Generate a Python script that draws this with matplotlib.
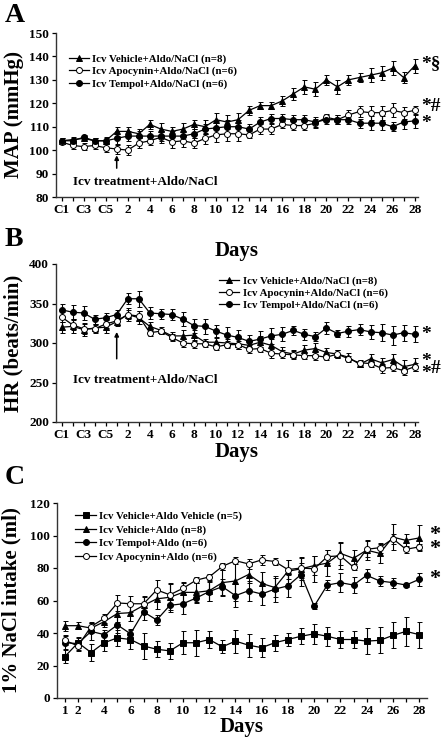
import matplotlib
matplotlib.use("Agg")
import matplotlib.pyplot as plt
from matplotlib.lines import Line2D
import numpy as np

plt.rcParams['font.family'] = ['Liberation Serif', 'DejaVu Serif']
plt.rcParams['font.weight'] = 'bold'
plt.rcParams['axes.labelweight'] = 'bold'

# ---------------- Panel A: MAP ----------------
ab_labels = ['C1', 'C2', 'C3', 'C4', 'C5'] + [str(d) for d in range(1, 29)]
a_vehicle = [104, 104.5, 105, 104, 104, 108, 108, 107, 111, 109, 108, 109, 111, 110, 113, 112, 113,
             117, 119, 119, 121, 124, 127, 126, 130, 127, 130, 131, 132, 133, 135, 131, 136]
a_vehicle_err = [1, 1, 1, 1, 1.5, 2, 2, 2, 2, 2.5, 2, 2.5, 2, 3, 3, 3, 3,
                 2, 1.5, 1.5, 2, 2.5, 3, 3, 2, 3, 2, 2, 3, 3, 3, 2.5, 3]
a_apocynin = [103.5, 102, 101.5, 102, 101, 100.5, 100, 103, 104, 105.5, 103.5, 104, 103, 105, 106.5, 107, 107,
              106.5, 109, 109, 111, 110.5, 110.5, 111.5, 114, 113, 115, 116.5, 116, 116, 117, 116, 117]
a_apocynin_err = [1, 1.5, 1.5, 1.5, 2, 2, 2, 2, 2, 2.5, 2.5, 2.5, 2, 2.5, 3, 3, 3,
                  1.5, 2, 2, 1.5, 2, 2, 2, 1.5, 2, 2, 2.5, 3, 3, 3, 2.5, 2]
a_tempol = [104, 104, 105.5, 104, 104, 105, 106, 106, 106, 106, 106, 106, 107, 109, 109.5, 110, 110,
            109, 112, 113.5, 113.5, 113, 113, 112, 113, 113, 113, 111.5, 111.5, 111.5, 110, 112, 112.5]
a_tempol_err = [1, 1, 1, 1, 1, 3, 2, 2, 2, 2, 2, 2, 2, 2, 3, 3, 3,
                2, 2, 2, 2, 2, 2, 2, 2, 2, 2, 2, 3, 3, 2, 3, 3]
a_legend = ['Icv Vehicle+Aldo/NaCl (n=8)', 'Icv Apocynin+Aldo/NaCl (n=6)', 'Icv Tempol+Aldo/NaCl (n=6)']

# ---------------- Panel B: HR ----------------
b_vehicle = [320, 321, 317, 319, 320, 327, 336, 332, 321, 316, 309, 309, 310, 301, 301, 300, 299,
             297, 301, 297, 289, 286, 291, 293, 288, 286, 282, 273, 280, 275, 279, 270, 273]
b_vehicle_err = [7, 8, 8, 5, 7, 5, 8, 8, 6, 4, 5, 7, 7, 4, 5, 5, 6,
                 5, 8, 8, 6, 5, 6, 7, 6, 5, 5, 4, 6, 6, 7, 8, 8]
b_apocynin = [333, 323, 318, 318, 324, 328, 336, 334, 313, 315, 307, 300, 299, 299, 295, 298, 298,
              292, 293, 287, 286, 285, 284, 284, 282, 286, 280, 275, 274, 268, 269, 265, 270]
b_apocynin_err = [6, 7, 6, 5, 5, 5, 6, 6, 4, 3, 5, 5, 5, 4, 4, 4, 5,
                  5, 5, 6, 5, 5, 4, 6, 4, 5, 4, 3, 4, 6, 5, 5, 5]
b_tempol = [342, 339, 338, 330, 332, 336, 356, 356, 338, 337, 336, 330, 322, 321, 315, 310, 307,
            302, 305, 309, 311, 316, 311, 308, 319, 312, 315, 317, 314, 313, 310, 313, 311]
b_tempol_err = [8, 9, 9, 6, 6, 6, 7, 10, 7, 6, 7, 9, 9, 9, 8, 10, 9,
                8, 10, 10, 9, 6, 7, 6, 8, 5, 7, 7, 9, 11, 12, 10, 10]

# ---------------- Panel C: 1% NaCl intake ----------------
c_days = list(range(1, 29))
c_aldo_vehicle = [25.5, 34, 28, 34, 37, 36, 32, 30, 29, 34, 34, 36, 31.5, 35, 32.5, 31, 34,
                  36, 38, 39.5, 38, 36, 36, 35, 35.5, 38.5, 41, 39]
c_aldo_vehicle_err = [4, 3, 5, 5, 5, 6, 8, 5, 5, 7, 8, 5, 4, 7, 7, 6, 5, 4, 5, 6, 6, 5, 5, 8, 8, 8, 9, 8]
c_vehicle = [44.5, 44.5, 43, 47, 52, 52.5, 57, 61, 62, 65, 65, 66, 71, 72, 76, 70.5, 68,
             78, 79.5, 81.5, 83, 89, 86, 91, 89, 99, 97, 98.5]
c_vehicle_err = [3, 2, 3, 3, 5, 5, 5, 6, 8, 6, 6, 6, 8, 12, 5, 7, 6, 7, 7, 6, 8, 7, 5, 6, 6, 8, 4, 8]
c_tempol = [34, 33.5, 41, 39, 45, 39.5, 53, 48, 57, 58, 61.5, 65.5, 68.5, 63, 66, 64, 67,
            69, 76, 56.5, 69.5, 71, 69.5, 75.5, 72, 71, 69.5, 73]
c_tempol_err = [4, 4, 5, 3, 5, 3, 5, 3, 4, 6, 3, 6, 5, 7, 6, 7, 8, 7, 7, 2, 3, 6, 5, 4, 3, 3, 1, 4]
c_apocynin = [35.5, 32, 44, 49, 58.5, 58, 58, 66.5, 63.5, 67.5, 72.5, 74.5, 81, 84.5, 82.5, 85, 84,
              79, 80, 79.5, 87, 87.5, 80.5, 91.5, 92.5, 98, 91.5, 93]
c_apocynin_err = [3, 3, 3, 3, 5, 5, 5, 6, 7, 4, 2, 2, 2, 2, 3, 3, 2, 6, 6, 8, 4, 8, 2, 5, 3, 3, 2, 2]
c_legend = ['Icv Vehicle+Aldo Vehicle (n=5)', 'Icv Vehicle+Aldo (n=8)',
            'Icv Tempol+Aldo (n=6)', 'Icv Apocynin+Aldo (n=6)']

FW, FH = 444, 740
fig = plt.figure(figsize=(FW / 100, FH / 100), dpi=100)


def add_ax(left, right, top, bottom):
    return fig.add_axes([left / FW, 1 - bottom / FH, (right - left) / FW, (bottom - top) / FH])


def style_ax(ax):
    for s in ['top', 'right']:
        ax.spines[s].set_visible(False)
    for s in ['left', 'bottom']:
        ax.spines[s].set_linewidth(1.0)
        ax.spines[s].set_color('#333333')
    ax.tick_params(direction='out', length=3, width=0.9, labelsize=9.5, pad=2, colors='black')
    for t in ax.get_xticklabels() + ax.get_yticklabels():
        t.set_fontweight('bold')


def series(ax, x, y, e, marker, fill, ms=4.3):
    ax.errorbar(x, y, yerr=e, color='black', lw=0.9, elinewidth=0.8, capsize=1.8, capthick=0.8,
                marker=marker, ms=ms, mfc=fill, mec='black', mew=0.7, clip_on=False)
    return Line2D([], [], color='black', lw=0.9, marker=marker, ms=ms, mfc=fill, mec='black', mew=0.7)


def legend(ax, handles, labels, anchor, spacing, size):
    ax.legend(handles, labels, loc='upper left', bbox_to_anchor=anchor, frameon=False,
              handlelength=1.9, handletextpad=0.3, labelspacing=spacing, borderpad=0,
              prop={'weight': 'bold', 'size': size})


def arrow(ax, x, y0, y1):
    ax.annotate('', xy=(x, y1), xytext=(x, y0),
                arrowprops=dict(arrowstyle='-|>', color='black', lw=1.1, mutation_scale=6,
                                shrinkA=0, shrinkB=0))


TF = 7.8

# Panel A
axA = add_ax(56, 418, 33, 197)
xA = np.arange(len(ab_labels))
hA = [series(axA, xA, a_vehicle, a_vehicle_err, '^', 'black', ms=4.8),
      series(axA, xA, a_apocynin, a_apocynin_err, 'o', 'white'),
      series(axA, xA, a_tempol, a_tempol_err, 'o', 'black')]
axA.set_xlim(-0.5, 32.3)
axA.set_ylim(80, 150)
axA.set_yticks(np.arange(80, 151, 10))
axA.set_xticks(xA)
axA.set_xticklabels([l if i % 2 == 0 else '' for i, l in enumerate(ab_labels)])
axA.set_ylabel('MAP (mmHg)', fontsize=15, fontweight='bold', labelpad=4)
axA.set_xlabel('Days', fontsize=15, fontweight='bold', labelpad=18)
style_ax(axA)
legend(axA, hA, a_legend, (0.02, 0.905), 0.25, TF)
arrow(axA, 5, 92.3, 97.8)
axA.text(1.0, 86.5, 'Icv treatment+Aldo/NaCl', fontsize=9.5, fontweight='bold', va='center')
axA.text(32.55, 137, '*§', fontsize=14, fontweight='bold', va='center', ha='left', clip_on=False)
axA.text(32.55, 118.5, '*#', fontsize=14, fontweight='bold', va='center', ha='left', clip_on=False)
axA.text(32.55, 111.5, '*', fontsize=14, fontweight='bold', va='center', ha='left', clip_on=False)
fig.text(5 / FW, 1 - 15 / FH, 'A', fontsize=20, fontweight='bold', va='center', ha='left')

# Panel B
axB = add_ax(56, 418, 264, 422)
hB = [series(axB, xA, b_vehicle, b_vehicle_err, '^', 'black', ms=4.8),
      series(axB, xA, b_apocynin, b_apocynin_err, 'o', 'white'),
      series(axB, xA, b_tempol, b_tempol_err, 'o', 'black')]
axB.set_xlim(-0.5, 32.3)
axB.set_ylim(200, 400)
axB.set_yticks(np.arange(200, 401, 50))
axB.set_xticks(xA)
axB.set_xticklabels([l if i % 2 == 0 else '' for i, l in enumerate(ab_labels)])
axB.set_ylabel('HR (beats/min)', fontsize=15, fontweight='bold', labelpad=4)
axB.set_xlabel('Days', fontsize=15, fontweight='bold', labelpad=1)
style_ax(axB)
legend(axB, hB, a_legend, (0.435, 0.955), 0.2, TF)
arrow(axB, 5, 280, 314)
axB.text(1.0, 253, 'Icv treatment+Aldo/NaCl', fontsize=9.5, fontweight='bold', va='center')
axB.text(32.55, 311, '*', fontsize=14, fontweight='bold', va='center', ha='left', clip_on=False)
axB.text(32.55, 269, '*\n*', fontsize=14, fontweight='bold', va='center', ha='left',
         linespacing=0.55, clip_on=False)
axB.text(33.5, 268, '#', fontsize=14, fontweight='bold', va='center', ha='left', clip_on=False)
fig.text(5 / FW, 1 - 240 / FH, 'B', fontsize=20, fontweight='bold', va='center', ha='left')

# Panel C
axC = add_ax(57, 427, 503, 698)
hC = [series(axC, c_days, c_aldo_vehicle, c_aldo_vehicle_err, 's', 'black', ms=4.4),
      series(axC, c_days, c_vehicle, c_vehicle_err, '^', 'black', ms=4.8),
      series(axC, c_days, c_tempol, c_tempol_err, 'o', 'black'),
      series(axC, c_days, c_apocynin, c_apocynin_err, 'o', 'white')]
axC.set_xlim(0.4, 28.6)
axC.set_ylim(0, 120)
axC.set_yticks(np.arange(0, 121, 20))
axC.set_xticks(c_days)
axC.set_xticklabels([str(d) if (d == 1 or d % 2 == 0) else '' for d in c_days])
axC.set_ylabel('1% NaCl intake (ml)', fontsize=15, fontweight='bold', labelpad=6)
axC.set_xlabel('Days', fontsize=15, fontweight='bold', labelpad=0)
style_ax(axC)
legend(axC, hC, c_legend, (0.035, 0.985), 0.35, TF)
axC.text(28.75, 96, '*\n*', fontsize=16, fontweight='bold', va='center', ha='left',
         linespacing=0.6, clip_on=False)
axC.text(28.75, 73, '*', fontsize=16, fontweight='bold', va='center', ha='left', clip_on=False)
fig.text(5 / FW, 1 - 478 / FH, 'C', fontsize=20, fontweight='bold', va='center', ha='left')

fig.savefig('out.png', dpi=100)
